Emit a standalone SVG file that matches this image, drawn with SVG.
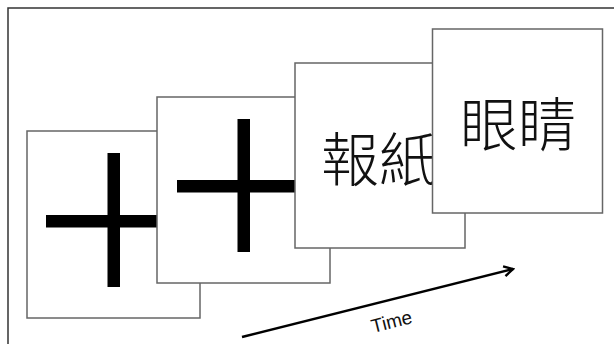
<svg xmlns="http://www.w3.org/2000/svg" width="614" height="344" viewBox="0 0 614 344">
<style>
.card{fill:#fff;stroke:#666;stroke-width:1.5}
.bar{fill:#000}
.cjk{font-family:"Noto Sans CJK TC","Noto Sans CJK SC",sans-serif;font-size:58px;font-weight:300;fill:#111}
.lbl{font-family:"Liberation Sans",Arial,sans-serif;font-size:19px;fill:#111}
</style>
<defs>
<marker id="arr" viewBox="0 0 12 12" refX="10" refY="6" markerWidth="12" markerHeight="12" markerUnits="userSpaceOnUse" orient="auto">
<path d="M1,1 L10,6 L1,11" fill="none" stroke="#000" stroke-width="2.4"/>
</marker>
</defs>
<rect x="0" y="0" width="614" height="344" fill="#fff"/>
<path d="M8,344 V8 H614" fill="none" stroke="#333" stroke-width="1.5"/>
<g id="card1">
<rect class="card" x="27" y="131" width="173" height="187"/>
<rect class="bar" x="107.5" y="153" width="12.5" height="134"/>
<rect class="bar" x="46" y="215" width="120" height="12.5"/>
</g>
<g id="card2">
<rect class="card" x="157" y="97" width="173" height="186"/>
<rect class="bar" x="237.5" y="119" width="12.5" height="133"/>
<rect class="bar" x="177" y="180" width="130" height="12.5"/>
</g>
<g id="card3">
<rect class="card" x="295" y="63" width="170" height="185"/>
<text class="cjk" x="321" y="181">報紙</text>
</g>
<g id="card4">
<rect class="card" x="432.5" y="29" width="170" height="184"/>
<text class="cjk" x="460" y="146">眼睛</text>
</g>
<g id="connectors">
<line x1="242" y1="337" x2="513" y2="269" stroke="#000" stroke-width="2.6" marker-end="url(#arr)"/>
<text class="lbl" transform="translate(392,323) rotate(-14)" text-anchor="middle" dominant-baseline="middle">Time</text>
</g>
</svg>
